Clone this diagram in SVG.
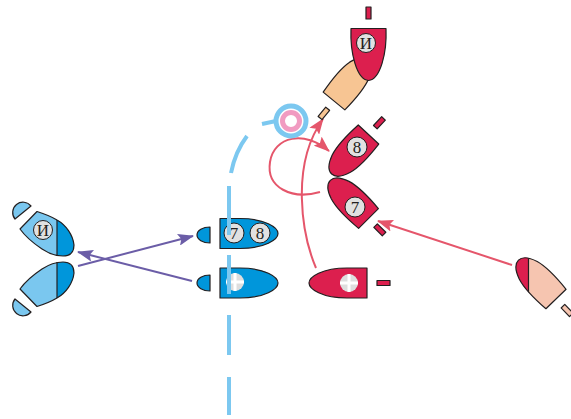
<svg xmlns="http://www.w3.org/2000/svg" xmlns:xlink="http://www.w3.org/1999/xlink" width="571" height="419" viewBox="0 0 571 419">
  <style>
    .ol { stroke: #231f20; stroke-width: 1.2; stroke-linejoin: round; }
    .red { fill: #dc1f4e; }
    .blue { fill: #0096db; }
    .lblue { fill: #7ac7ef; }
    .peach { fill: #f7c593; }
    .peach2 { fill: #f6c5b0; }
    .disc { fill: #e1e1e1; stroke: #231f20; stroke-width: 1; }
    .cdisc { fill: #dedede; }
    .cross { stroke: #ffffff; stroke-width: 3; }
    .num { font-family: "Liberation Serif", "Times New Roman", serif; font-size: 17px; fill: #231f20; text-anchor: middle; }
    .dash { stroke: #7cc8f0; stroke-width: 4; fill: none; }
    .arR { stroke: #e5566b; stroke-width: 2; fill: none; }
    .arP { stroke: #6b5da7; stroke-width: 2; fill: none; }
  </style>
  <defs>
    <!-- rounded hull, stern on local y=0, bow towards +y -->
    <path id="hullR" d="M-14,0 L14,0 C15.5,17 15.5,30 12.5,40 C9.5,49 5,54 0,54 C-5,54 -9.5,49 -12.5,40 C-15.5,30 -15.5,17 -14,0 Z"/>
    <!-- wider hull for the top boat -->
    <path id="hullW" d="M-17.5,0 L17.5,0 C18.5,24 12,51 0,52 C-12,51 -18.5,24 -17.5,0 Z"/>
    <!-- horizontal hull, stern on x=0, bow towards +x -->
    <path id="hullB" d="M0,-15 L20,-15 C45,-15 58,-6 58,0 C58,6 45,15 20,15 L0,15 Z"/>
    <!-- left hull drawn in place -->
    <path id="hullL" d="M20,229 L37,211.5 C45,214 52,217 57,220 C66,225 73,235 74,245 C74,252 70,256 63,256 C56,256 48,253 42,249 C33,243 25,236 20,229 Z"/>
    <clipPath id="rightOfL"><rect x="57" y="0" width="100" height="419"/></clipPath>
    <clipPath id="leftOfR"><rect x="400" y="200" width="128.5" height="150"/></clipPath>
    <clipPath id="rbHull"><use xlink:href="#hullR" transform="translate(556,299) rotate(136)"/></clipPath>
    <marker id="headR" viewBox="0 0 16 12" refX="15" refY="6" markerWidth="16" markerHeight="12" markerUnits="userSpaceOnUse" orient="auto">
      <path d="M0,0 L16,6 L0,12 L3,6 Z" fill="#e5566b"/>
    </marker>
    <marker id="headP" viewBox="0 0 16 12" refX="15" refY="6" markerWidth="16" markerHeight="12" markerUnits="userSpaceOnUse" orient="auto">
      <path d="M0,0 L16,6 L0,12 L3,6 Z" fill="#6b5da7"/>
    </marker>
  </defs>

  <!-- connectors -->
  <g id="connectors">
    <path class="arP" d="M78,266 L193,236" marker-end="url(#headP)"/>
    <path class="arP" d="M192,281 L78,252" marker-end="url(#headP)"/>
    <path class="arR" d="M512,265 L378,221" marker-end="url(#headR)"/>
    <path class="arR" d="M316,268 C302,235 290,165 323,119" marker-end="url(#headR)"/>
    <path class="arR" d="M320,192 C292,200 266,188 270,162 C274,136 305,130 329,151" marker-end="url(#headR)"/>
  </g>

  <!-- left pair, blue -->
  <g id="boat-left-top">
    <use xlink:href="#hullL" class="lblue"/>
    <use xlink:href="#hullL" class="blue" clip-path="url(#rightOfL)"/>
    <line x1="57" y1="220" x2="57" y2="256" class="ol"/>
    <use xlink:href="#hullL" class="ol" fill="none"/>
    <path d="M15,219 L31,206 A10.3,10.3 0 0 0 15,219 Z" class="lblue ol"/>
    <circle cx="43" cy="230" r="9.5" class="disc"/>
    <text x="43" y="236" class="num" font-size="16">И</text>
  </g>
  <g id="boat-left-bottom" transform="matrix(1,0,0,-1,0,518)">
    <use xlink:href="#hullL" class="lblue"/>
    <use xlink:href="#hullL" class="blue" clip-path="url(#rightOfL)"/>
    <line x1="57" y1="220" x2="57" y2="256" class="ol"/>
    <use xlink:href="#hullL" class="ol" fill="none"/>
    <path d="M15,219 L31,206 A10.3,10.3 0 0 0 15,219 Z" class="lblue ol"/>
  </g>

  <!-- centre pair, blue -->
  <g id="boat-78">
    <path d="M210,227 A13,8 0 0 0 210,243 Z" class="blue ol"/>
    <use xlink:href="#hullB" transform="translate(220,233.5)" class="blue ol"/>
    <circle cx="234" cy="233" r="10" class="disc"/>
    <text x="234" y="239" class="num">7</text>
    <circle cx="260" cy="233" r="10" class="disc"/>
    <text x="260" y="239" class="num">8</text>
  </g>
  <g id="boat-blue-cross">
    <path d="M210,275 A13,8 0 0 0 210,291 Z" class="blue ol"/>
    <use xlink:href="#hullB" transform="translate(220,283)" class="blue ol"/>
    <circle cx="235" cy="282" r="9" class="cdisc"/>
    <path d="M226,282 H244 M235,273 V291" class="cross"/>
  </g>

  <!-- red boat with cross -->
  <g id="boat-red-cross">
    <use xlink:href="#hullB" transform="translate(367,283) scale(-1,1)" class="red ol"/>
    <rect x="377" y="280.5" width="13" height="5" class="red ol"/>
    <circle cx="349" cy="283" r="9" class="cdisc"/>
    <path d="M340,283 H358 M349,274 V292" class="cross"/>
  </g>

  <!-- top boat: turning, stern part shown behind -->
  <g id="boat-top">
    <g transform="translate(334,101) rotate(219.3)">
      <use xlink:href="#hullR" class="peach ol"/>
      <rect x="-2.5" y="-22" width="5" height="12" class="peach ol"/>
    </g>
    <g transform="translate(368.5,28.5)">
      <use xlink:href="#hullW" class="red ol"/>
      <rect x="-2.5" y="-21.5" width="5" height="12" class="red ol"/>
    </g>
    <circle cx="366" cy="43" r="9.5" class="disc"/>
    <text x="366" y="49" class="num" font-size="16">И</text>
  </g>

  <g id="boat-8">
    <g transform="translate(368.5,134.5) rotate(43)">
      <use xlink:href="#hullR" class="red ol"/>
      <rect x="-2.5" y="-22" width="5" height="12" class="red ol"/>
    </g>
    <circle cx="357" cy="147" r="10" class="disc"/>
    <text x="357" y="153" class="num">8</text>
  </g>

  <g id="boat-7">
    <g transform="translate(368.5,218.5) rotate(135)">
      <use xlink:href="#hullR" class="red ol"/>
      <rect x="-2.5" y="-22" width="5" height="12" class="red ol"/>
    </g>
    <circle cx="355" cy="207" r="10" class="disc"/>
    <text x="355" y="213" class="num">7</text>
  </g>

  <!-- right boat, bow section marked -->
  <g id="boat-right">
    <use xlink:href="#hullR" transform="translate(556,299) rotate(136)" class="peach2"/>
    <g clip-path="url(#leftOfR)">
      <use xlink:href="#hullR" transform="translate(556,299) rotate(136)" class="red"/>
    </g>
    <line x1="528.5" y1="240" x2="528.5" y2="320" class="ol" clip-path="url(#rbHull)"/>
    <use xlink:href="#hullR" transform="translate(556,299) rotate(136)" class="ol" fill="none"/>
    <rect x="-2.5" y="-22" width="5" height="12" class="peach2 ol" transform="translate(556,299) rotate(136)"/>
  </g>

  <!-- mark and its boundary line -->
  <g id="mark">
    <path class="dash" d="M262,124 L276,121"/>
    <circle cx="291" cy="121" r="15" fill="#ffffff" stroke="#7cc8f0" stroke-width="5"/>
    <circle cx="291" cy="121" r="8.5" fill="#ffffff" stroke="#f19bc1" stroke-width="5"/>
  </g>
  <g id="boundary">
    <path class="dash" d="M247,136 Q235,152 231,173"/>
    <path class="dash" d="M229,186 V235 M229,255 V294 M229,315 V355 M229,377 V415"/>
  </g>
</svg>
